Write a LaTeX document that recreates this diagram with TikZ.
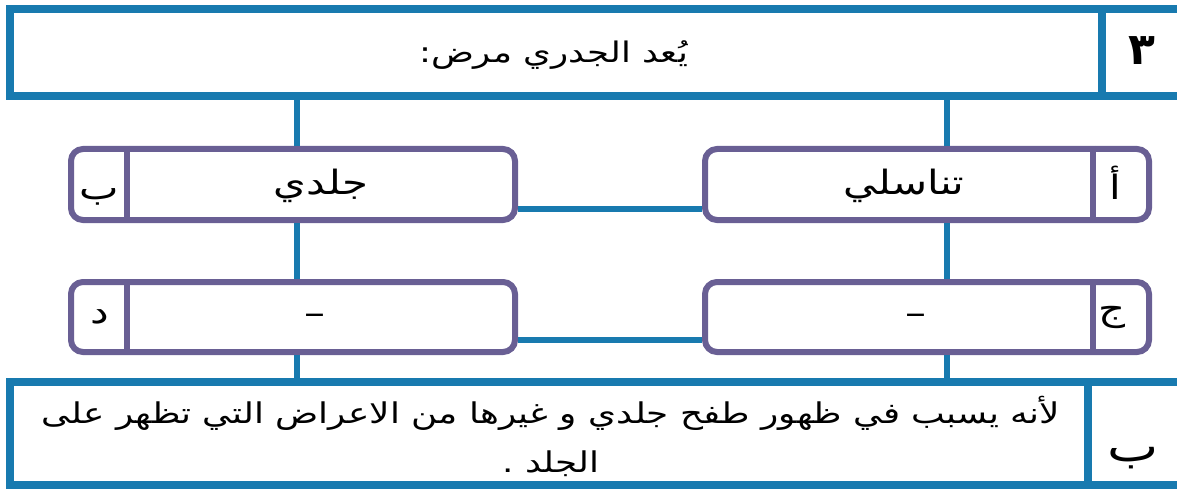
\documentclass[tikz,border=0pt]{standalone}
\usepackage{fontspec}
\newfontfamily\arabicfont[Script=Arabic]{DejaVu Sans}
\newfontfamily\arabicwide[Script=Arabic,FakeStretch=1.25]{DejaVu Sans}
\TeXXeTstate=1
\usepackage{tikz}
\usetikzlibrary{positioning}
\definecolor{frameblue}{RGB}{24,122,175}
\definecolor{optpurple}{RGB}{105,95,148}
\tikzstyle{qcell}=[rectangle,draw=frameblue,line width=8pt,fill=white,inner sep=0mm]
\tikzstyle{ocell}=[rectangle,rounded corners=12pt,draw=optpurple,line width=6pt,fill=white,inner sep=0mm,minimum width=444pt]
\tikzstyle{link}=[draw=frameblue,line width=6pt]
\tikzstyle{artext}=[font=\arabicwide\fontsize{33.5}{40}\selectfont,inner sep=0mm,anchor=base]
\tikzset{every picture/.style={
    x=1pt,y=-1pt
  }
}

\begin{document}
\begin{tikzpicture}
        \useasboundingbox (0,0) rectangle (1177,489);
        \clip (0,0) rectangle (1177,489);
        \coordinate (lcol) at (297,0);
        \coordinate (rcol) at (947,0);
        \coordinate (hrow1) at (0,209);
        \coordinate (hrow2) at (0,340);
        % question
        \node[qcell,minimum width=1092pt,minimum height=87pt] at (556,52.5) (qcell) {};
        \node[qcell,minimum width=79pt,minimum height=87pt] at (1141.5,52.5) (qnumcell) {};
        \node[artext,font=\arabicwide\fontsize{28.4}{34}\selectfont] at (553.5,63) (qtxt) {\beginR يُعد الجدري مرض:\endR};
        \node[artext,font=\arabicfont\bfseries\fontsize{44}{50}\selectfont] at (1141.5,65) (qnum) {٣};
        % options
        \node[ocell,minimum height=71pt] at (293,184.5) (optb) {};
        \node[ocell,minimum height=71pt] at (927,184.5) (opta) {};
        \node[ocell,minimum height=70pt] at (293,317) (optd) {};
        \node[ocell,minimum height=70pt] at (927,317) (optc) {};
        \draw[optpurple,line width=6pt] ([xshift=59pt]optb.north west) -- ([xshift=59pt]optb.south west);
        \draw[optpurple,line width=6pt] ([xshift=-59pt]opta.north east) -- ([xshift=-59pt]opta.south east);
        \draw[optpurple,line width=6pt] ([xshift=59pt]optd.north west) -- ([xshift=59pt]optd.south west);
        \draw[optpurple,line width=6pt] ([xshift=-59pt]optc.north east) -- ([xshift=-59pt]optc.south east);
        \node[artext] at (99,200) (lb) {\beginR ب\endR};
        \node[artext] at (321,195) (tb) {\beginR جلدي\endR};
        \node[artext] at (1115,200) (la) {\beginR أ\endR};
        \node[artext] at (904,195) (ta) {\beginR تناسلي\endR};
        \node[artext] at (99.5,323) (ld) {\beginR د\endR};
        \node[artext] at (315,324) (td) {–};
        \node[artext] at (1112,320) (lc) {\beginR ج\endR};
        \node[artext] at (916,324) (tc) {–};
        % answer
        \node[qcell,minimum width=1078pt,minimum height=103pt] at (549,433.5) (anscell) {};
        \node[qcell,minimum width=93pt,minimum height=103pt] at (1134.5,433.5) (anumcell) {};
        \node[align=center,inner sep=0mm,font=\arabicwide\fontsize{28.6}{49}\selectfont] at (551,436) (ans) {\beginR لأنه يسبب في ظهور طفح جلدي و غيرها من الاعراض التي تظهر على\endR\\\beginR الجلد .\endR};
        \node[artext,font=\arabicwide\fontsize{43.5}{50}\selectfont] at (1133.5,461) (anum) {\beginR ب\endR};
        % links
        \draw[link] (qcell.south -| lcol) -- (optb.north -| lcol);
        \draw[link] (qcell.south -| rcol) -- (opta.north -| rcol);
        \draw[link] (optb.south -| lcol) -- (optd.north -| lcol);
        \draw[link] (opta.south -| rcol) -- (optc.north -| rcol);
        \draw[link] (optd.south -| lcol) -- (anscell.north -| lcol);
        \draw[link] (optc.south -| rcol) -- (anscell.north -| rcol);
        \draw[link] (optb.east |- hrow1) -- (opta.west |- hrow1);
        \draw[link] (optd.east |- hrow2) -- (optc.west |- hrow2);
      \end{tikzpicture}
\end{document}
